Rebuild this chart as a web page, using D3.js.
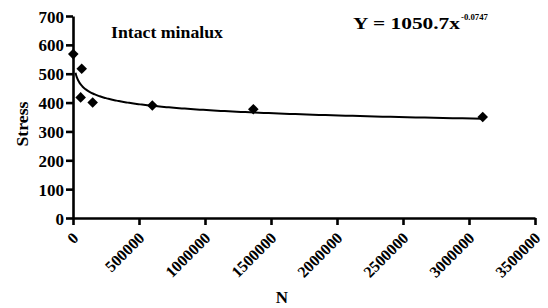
<!DOCTYPE html>
<html>
<head>
<meta charset="utf-8">
<script src="https://cdn.jsdelivr.net/npm/d3@7"></script>
<style>
  body { margin: 0; background: #fff; }
  svg text { font-family: "Liberation Serif", "Times New Roman", Times, "DejaVu Serif", serif !important; font-weight: bold; }
</style>
</head>
<body>
<div id="chart"></div>
<script>
// measured points (cycles N, stress)
var cycles = [2000, 66000, 58000, 149000, 601000, 1366000, 3104000];
var stress = [568, 517, 418, 400, 390, 377, 350];
var xTicks = [0, 500000, 1000000, 1500000, 2000000, 2500000, 3000000, 3500000];
var yTicks = [0, 100, 200, 300, 400, 500, 600, 700];
// power fit Y = a * x^b
var fitA = 1050.7, fitB = -0.0747;
var fitRange = [19000, 3104000];

var width = 548, height = 308;
var margin = { top: 16, right: 13, bottom: 90, left: 73 };

var svg = d3.select("#chart").append("svg")
    .attr("width", width)
    .attr("height", height);

var x = d3.scaleLinear().domain([0, 3500000]).range([margin.left, width - margin.right]);
var y = d3.scaleLinear().domain([0, 700]).range([height - margin.bottom, margin.top]);

var data = cycles.map(function (d, i) { return { n: d, s: stress[i] }; });

// x axis
var xAxis = svg.append("g")
    .attr("transform", "translate(0," + y(0) + ")")
    .call(d3.axisBottom(x).tickValues(xTicks).tickFormat(d3.format("d")).tickSize(7).tickSizeOuter(0));
xAxis.selectAll("text")
    .attr("font-size", 16)
    .attr("text-anchor", "end")
    .attr("dy", null)
    .attr("y", 0)
    .attr("transform", "translate(6,21) rotate(-45)");

// y axis
var yAxis = svg.append("g")
    .attr("transform", "translate(" + x(0) + ",0)")
    .call(d3.axisLeft(y).tickValues(yTicks).tickSize(7).tickSizeOuter(0));
yAxis.selectAll("text")
    .attr("font-size", 17)
    .attr("x", -9)
    .attr("dy", "0.36em");

svg.selectAll(".tick text").attr("fill", "#000");

svg.selectAll(".domain, .tick line")
    .attr("stroke", "#000")
    .attr("stroke-width", 2.6);

// fitted curve
var fitPts = d3.range(0, 201).map(function (i) {
    var n = fitRange[0] * Math.pow(fitRange[1] / fitRange[0], i / 200);
    return [n, fitA * Math.pow(n, fitB)];
});
svg.append("path")
    .datum(fitPts)
    .attr("fill", "none")
    .attr("stroke", "#000")
    .attr("stroke-width", 2)
    .attr("d", d3.line().x(function (d) { return x(d[0]); }).y(function (d) { return y(d[1]); }));

// markers
svg.selectAll(".pt")
    .data(data)
    .enter().append("path")
    .attr("class", "pt")
    .attr("d", d3.symbol().type(d3.symbolSquare).size(56))
    .attr("transform", function (d) { return "translate(" + x(d.n) + "," + y(d.s) + ") rotate(45)"; })
    .attr("fill", "#000");

// labels
svg.append("text")
    .attr("transform", "translate(28," + ((y(0) + y(700)) / 2 + 7) + ") rotate(-90)")
    .attr("text-anchor", "middle")
    .attr("font-size", 16)
    .attr("textLength", 45)
    .attr("lengthAdjust", "spacingAndGlyphs")
    .text("Stress");

svg.append("text")
    .attr("x", 282).attr("y", 303)
    .attr("text-anchor", "middle")
    .attr("font-size", 17)
    .text("N");

svg.append("text")
    .attr("x", 111).attr("y", 38)
    .attr("font-size", 17)
    .attr("textLength", 112)
    .attr("lengthAdjust", "spacingAndGlyphs")
    .text("Intact minalux");

svg.append("text")
    .attr("x", 353).attr("y", 29)
    .attr("font-size", 17)
    .attr("textLength", 107)
    .attr("lengthAdjust", "spacingAndGlyphs")
    .text("Y = " + fitA + "x");
svg.append("text")
    .attr("x", 461).attr("y", 20)
    .attr("font-size", 8)
    .attr("textLength", 27)
    .attr("lengthAdjust", "spacingAndGlyphs")
    .text(fitB);
</script>
</body>
</html>
